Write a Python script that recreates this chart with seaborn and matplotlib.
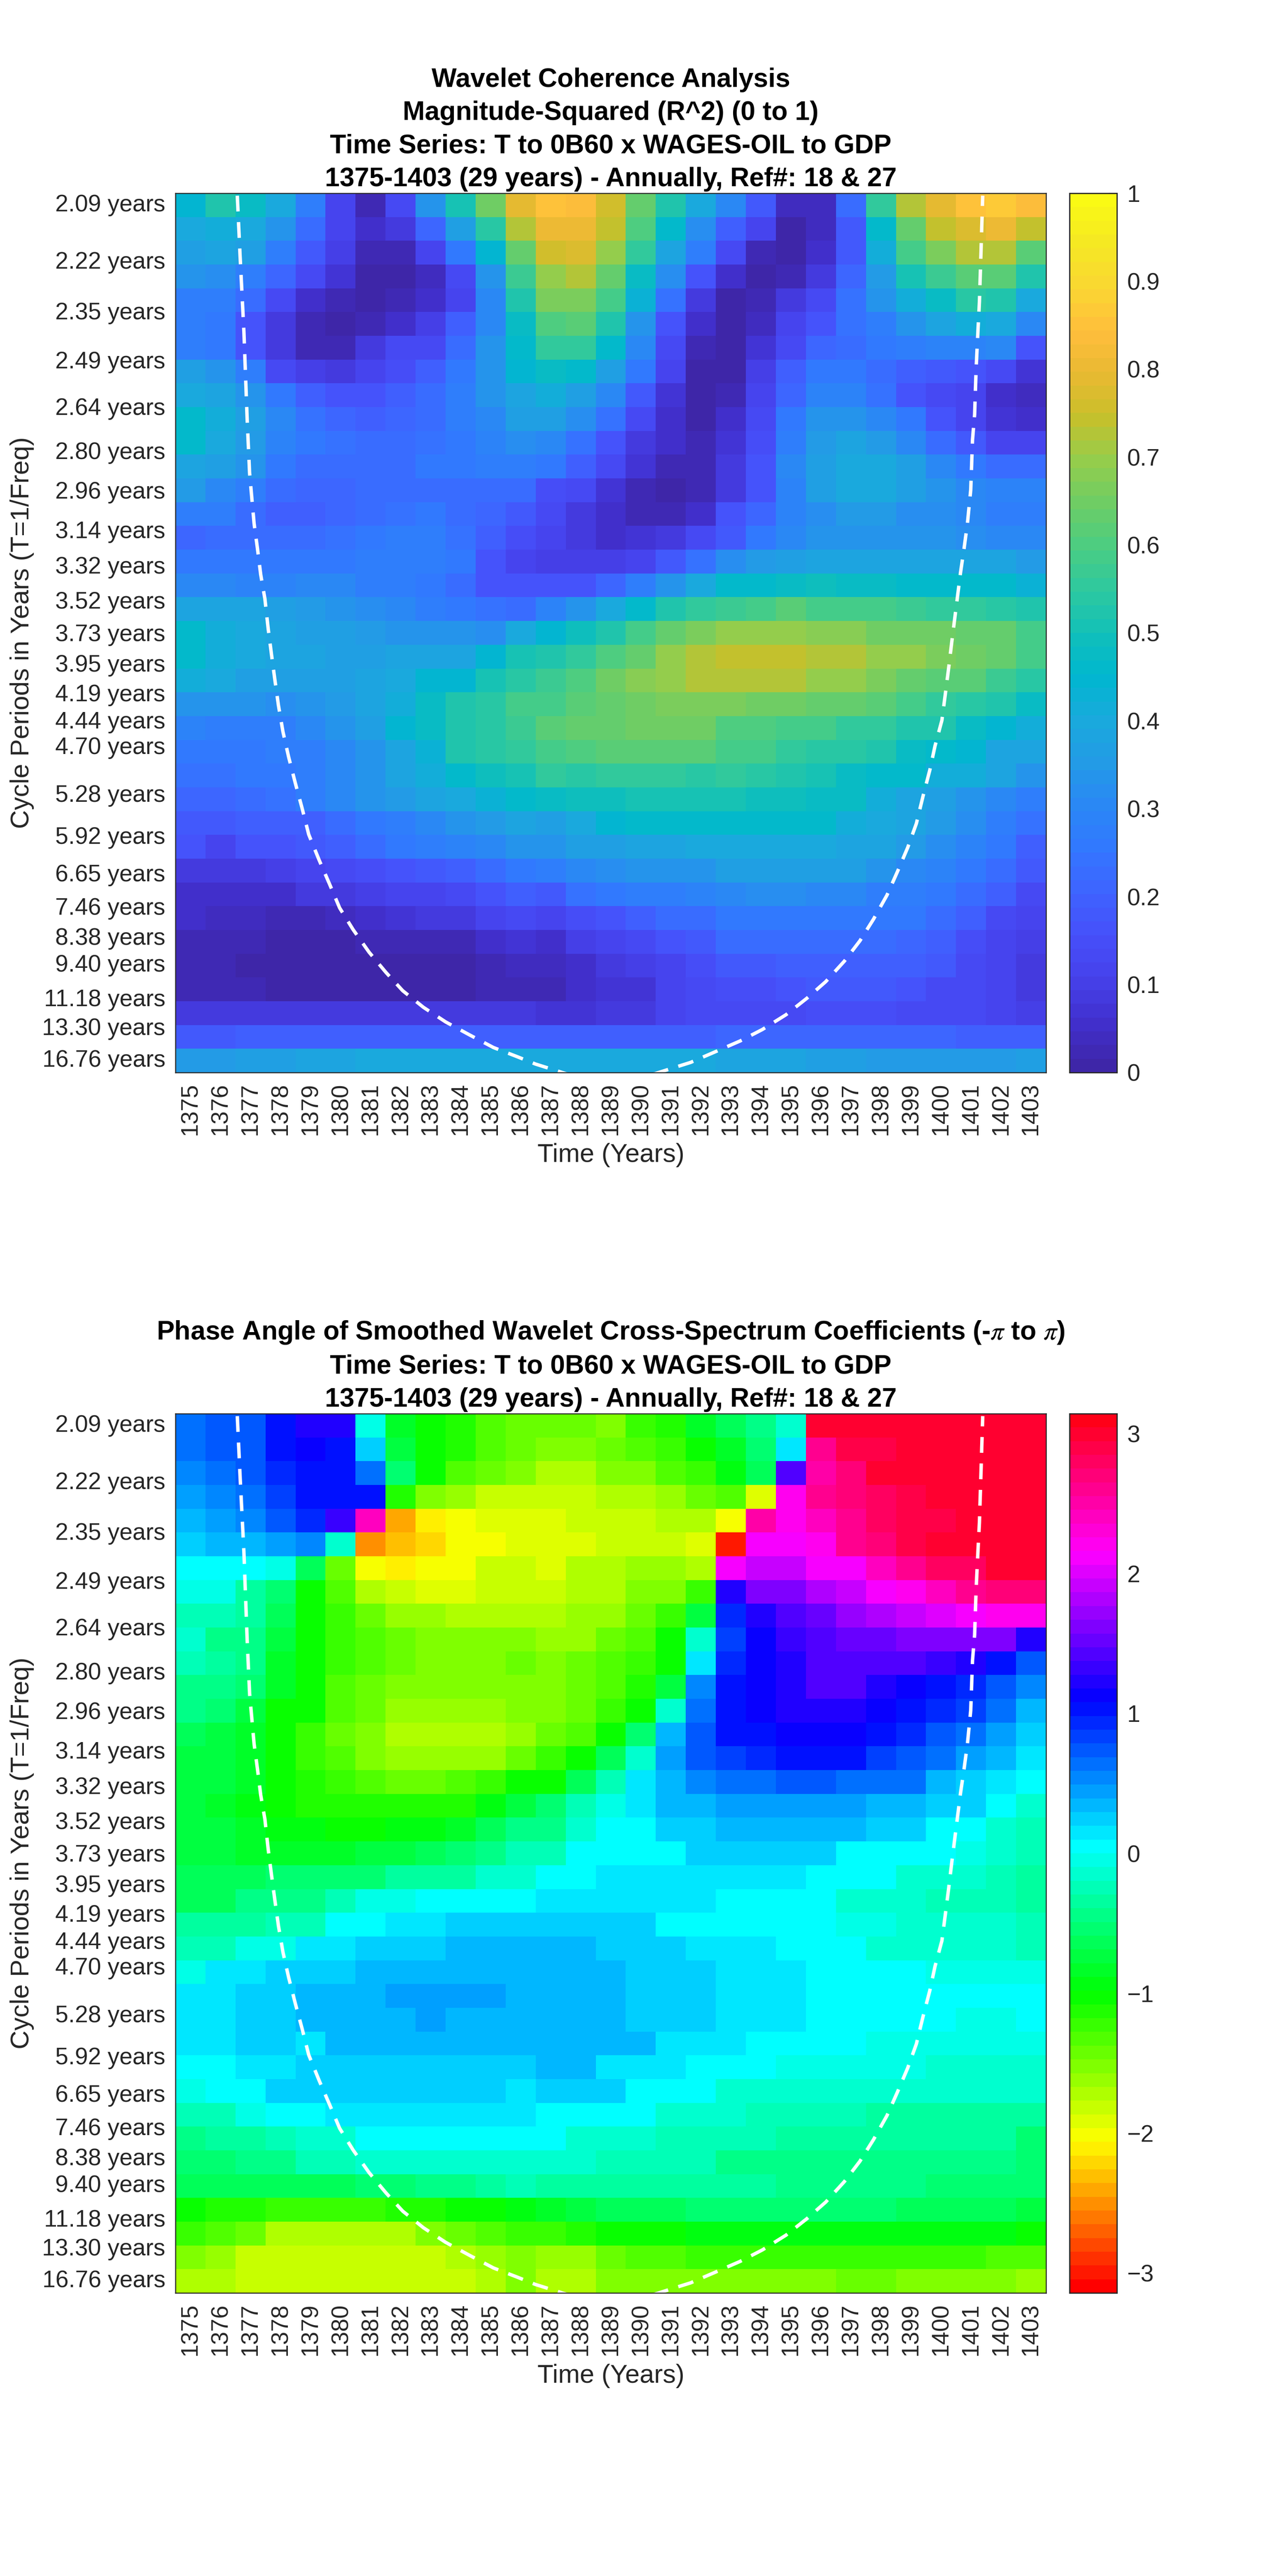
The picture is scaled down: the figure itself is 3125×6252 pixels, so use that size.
import numpy as np
import pandas as pd
import seaborn as sns
import matplotlib
matplotlib.use("Agg")
import matplotlib.pyplot as plt

years = list(range(1375, 1404))

periods = [2.09, 2.22, 2.35, 2.49, 2.64, 2.80, 2.96, 3.14, 3.32, 3.52, 3.73, 3.95, 4.19, 4.44, 4.70,
           4.98, 5.28, 5.59, 5.92, 6.27, 6.65, 7.04, 7.46, 7.90, 8.38, 8.88, 9.40, 9.96, 10.55, 11.18,
           11.85, 12.55, 13.30, 14.09, 14.93, 15.81, 16.76]
hidden_periods = [4.98, 5.59, 6.27, 7.04, 7.90, 8.88, 9.96, 10.55, 11.85, 12.55, 14.09, 14.93, 15.81]

# magnitude squared coherence, one row per cycle period
coherence = [
    [.45,.52,.47,.40,.28,.11,.03,.14,.33,.51,.65,.79,.85,.83,.75,.63,.52,.40,.30,.18,.04,.04,.23,.55,.72,.79,.85,.86,.83],
    [.40,.42,.40,.33,.22,.11,.05,.08,.21,.36,.54,.73,.81,.81,.74,.60,.46,.32,.19,.11,.01,.04,.18,.46,.63,.74,.78,.80,.74],
    [.37,.38,.37,.28,.18,.10,.03,.03,.12,.25,.44,.64,.76,.77,.69,.55,.38,.27,.13,.03,.01,.05,.18,.41,.58,.67,.72,.72,.62],
    [.33,.32,.28,.21,.13,.07,.01,.01,.04,.13,.33,.57,.70,.72,.63,.48,.32,.16,.05,.00,.02,.09,.21,.35,.51,.57,.61,.61,.53],
    [.28,.28,.22,.13,.06,.03,.01,.02,.05,.12,.30,.53,.66,.67,.58,.43,.24,.09,.00,.02,.08,.13,.24,.33,.41,.47,.54,.52,.40],
    [.28,.25,.17,.09,.02,.01,.03,.05,.10,.19,.30,.47,.60,.61,.53,.33,.17,.05,.00,.04,.12,.16,.24,.28,.33,.38,.41,.40,.30],
    [.28,.26,.17,.09,.03,.03,.09,.13,.14,.22,.33,.46,.56,.56,.46,.30,.13,.03,.00,.07,.14,.21,.23,.25,.28,.29,.29,.31,.16],
    [.36,.34,.27,.14,.10,.09,.12,.15,.19,.26,.33,.44,.47,.46,.36,.25,.11,.00,.00,.10,.19,.25,.25,.22,.20,.18,.17,.13,.07],
    [.40,.38,.33,.26,.20,.17,.17,.20,.23,.27,.34,.38,.41,.37,.31,.18,.07,.00,.03,.11,.21,.29,.29,.24,.17,.14,.12,.06,.04],
    [.46,.42,.37,.30,.24,.21,.20,.21,.23,.27,.31,.36,.36,.32,.24,.14,.06,.00,.06,.13,.25,.33,.33,.31,.25,.17,.12,.07,.05],
    [.46,.40,.35,.29,.25,.24,.23,.23,.24,.26,.29,.32,.30,.24,.17,.09,.05,.02,.07,.15,.27,.35,.39,.35,.31,.23,.18,.12,.11],
    [.39,.37,.33,.26,.23,.23,.23,.23,.25,.26,.28,.28,.25,.19,.13,.07,.03,.03,.08,.16,.30,.37,.40,.40,.36,.30,.26,.23,.23],
    [.35,.30,.27,.22,.21,.21,.22,.22,.23,.23,.23,.22,.15,.13,.07,.03,.01,.03,.09,.17,.29,.36,.40,.40,.37,.33,.31,.29,.29],
    [.28,.27,.23,.20,.20,.21,.23,.24,.25,.23,.21,.18,.13,.09,.06,.02,.03,.06,.16,.21,.29,.32,.35,.35,.32,.32,.30,.28,.28],
    [.21,.22,.22,.22,.23,.24,.26,.27,.27,.24,.20,.15,.11,.08,.05,.07,.09,.13,.18,.26,.31,.33,.33,.33,.33,.33,.32,.31,.31],
    [.25,.25,.25,.25,.25,.26,.27,.27,.27,.26,.16,.11,.10,.10,.10,.12,.18,.24,.32,.35,.37,.38,.38,.38,.39,.39,.39,.39,.35],
    [.31,.30,.29,.29,.30,.30,.28,.27,.26,.23,.16,.16,.16,.17,.21,.27,.33,.40,.46,.46,.47,.49,.48,.47,.46,.46,.46,.46,.43],
    [.39,.39,.38,.36,.35,.34,.32,.30,.28,.26,.24,.22,.29,.33,.40,.46,.52,.56,.57,.59,.61,.59,.59,.59,.57,.56,.55,.54,.52],
    [.46,.42,.40,.39,.37,.36,.35,.34,.33,.33,.32,.40,.45,.49,.53,.58,.63,.67,.70,.70,.70,.68,.68,.65,.65,.65,.63,.63,.58],
    [.46,.42,.40,.39,.38,.37,.37,.38,.38,.38,.45,.50,.53,.56,.60,.64,.70,.72,.74,.74,.74,.72,.72,.70,.70,.66,.65,.63,.59],
    [.41,.40,.37,.37,.37,.37,.38,.40,.45,.45,.50,.54,.57,.60,.65,.68,.70,.72,.72,.72,.72,.69,.69,.67,.64,.62,.61,.57,.54],
    [.34,.33,.33,.32,.33,.35,.39,.42,.47,.52,.54,.58,.58,.62,.64,.65,.66,.67,.67,.65,.65,.63,.63,.61,.59,.56,.54,.52,.48],
    [.29,.28,.28,.28,.30,.33,.37,.45,.47,.52,.54,.57,.61,.63,.63,.65,.65,.65,.60,.60,.58,.58,.56,.55,.52,.52,.48,.45,.41],
    [.26,.26,.26,.28,.28,.31,.34,.39,.43,.52,.54,.56,.58,.60,.61,.61,.61,.61,.58,.58,.56,.54,.54,.52,.47,.46,.45,.39,.38],
    [.24,.24,.25,.26,.28,.31,.34,.38,.42,.46,.49,.51,.55,.54,.55,.55,.55,.54,.55,.54,.52,.51,.48,.46,.46,.42,.41,.38,.34],
    [.21,.21,.22,.24,.27,.30,.33,.35,.38,.40,.43,.46,.47,.49,.49,.51,.51,.51,.51,.49,.49,.47,.47,.41,.39,.37,.34,.31,.27],
    [.18,.18,.19,.20,.20,.23,.25,.27,.30,.33,.35,.38,.36,.40,.45,.46,.46,.46,.46,.46,.46,.46,.41,.40,.38,.35,.32,.28,.24],
    [.16,.12,.16,.17,.18,.20,.22,.25,.27,.29,.31,.33,.33,.36,.37,.38,.39,.40,.40,.40,.40,.40,.39,.38,.35,.32,.29,.25,.20],
    [.09,.08,.08,.10,.11,.13,.15,.16,.18,.20,.22,.26,.27,.30,.32,.33,.34,.34,.37,.37,.37,.36,.36,.33,.31,.29,.26,.22,.18],
    [.06,.05,.05,.05,.08,.09,.10,.11,.12,.14,.16,.19,.18,.24,.25,.27,.28,.29,.31,.32,.32,.31,.30,.28,.27,.26,.22,.19,.14],
    [.05,.04,.04,.02,.02,.04,.05,.07,.08,.09,.11,.13,.11,.15,.17,.19,.22,.23,.26,.26,.26,.26,.26,.26,.25,.23,.19,.13,.11],
    [.03,.02,.02,.01,.01,.01,.02,.03,.03,.03,.05,.07,.06,.10,.12,.14,.17,.18,.23,.23,.23,.22,.22,.22,.21,.19,.15,.12,.10],
    [.03,.02,.01,.01,.01,.01,.01,.01,.01,.01,.02,.04,.04,.05,.09,.10,.11,.15,.18,.18,.20,.20,.20,.20,.19,.18,.14,.12,.09],
    [.03,.02,.02,.01,.01,.01,.01,.01,.01,.01,.02,.02,.02,.05,.07,.07,.12,.13,.15,.15,.16,.18,.18,.18,.17,.14,.13,.11,.09],
    [.08,.08,.08,.08,.08,.08,.08,.08,.08,.08,.08,.08,.07,.07,.08,.09,.12,.13,.14,.14,.14,.15,.15,.15,.14,.13,.13,.12,.10],
    [.18,.18,.19,.19,.19,.20,.20,.20,.20,.20,.20,.20,.20,.20,.20,.20,.20,.20,.21,.21,.21,.21,.21,.21,.21,.21,.20,.20,.20],
    [.35,.35,.36,.37,.38,.39,.40,.40,.40,.40,.40,.40,.40,.40,.40,.40,.40,.40,.39,.39,.38,.37,.36,.35,.35,.35,.35,.35,.36],
]

# phase angle in radians, same layout
phase = [
    [.64,.72,.78,1.0,1.2,1.2,-.06,-.84,-1.05,-1.13,-1.33,-1.42,-1.46,-1.46,-1.48,-1.25,-1.09,-.84,-.6,-.43,-.14,3.02,3.02,3.02,3.02,3.02,3.02,3.02,3.02],
    [.64,.70,.75,1.0,1.1,1.0,.22,-.72,-1.05,-1.09,-1.33,-1.40,-1.56,-1.56,-1.42,-1.33,-1.24,-1.0,-.8,-.51,.1,2.65,2.9,2.9,3.02,3.02,3.02,3.02,3.02],
    [.55,.65,.72,.9,1.0,1.0,.64,-.51,-1.05,-1.29,-1.40,-1.52,-1.67,-1.67,-1.54,-1.54,-1.33,-1.24,-.97,-.6,1.46,2.52,2.73,2.95,2.95,3.02,3.02,3.02,3.02],
    [.42,.55,.62,.85,1.03,1.05,1.05,-1.13,-1.54,-1.65,-1.79,-1.80,-1.83,-1.83,-1.71,-1.71,-1.58,-1.42,-1.33,-1.96,2.23,2.56,2.68,2.81,2.9,3.02,3.02,3.02,3.02],
    [.32,.42,.55,.75,.97,1.3,2.45,-2.38,-2.09,-2.0,-1.87,-1.87,-1.93,-1.80,-1.82,-1.82,-1.67,-1.67,-1.98,2.52,2.23,2.36,2.6,2.77,2.9,2.9,3.02,3.02,3.02],
    [.21,.32,.33,.42,.55,-.18,-2.46,-2.32,-2.2,-2.0,-2.0,-1.92,-1.9,-1.92,-1.79,-1.79,-1.79,-1.9,-2.95,2.09,2.09,2.2,2.56,2.73,2.9,2.95,2.95,3.02,3.02],
    [.08,.08,0,-.05,-.64,-1.46,-1.98,-2.09,-1.98,-1.98,-1.83,-1.83,-1.87,-1.75,-1.75,-1.63,-1.63,-1.75,2.15,1.87,1.87,2.09,2.09,2.40,2.6,2.77,2.83,2.95,2.95],
    [-.03,-.03,-.35,-.55,-1.0,-1.3,-1.67,-1.83,-1.87,-1.87,-1.77,-1.77,-1.77,-1.69,-1.69,-1.56,-1.56,-1.25,1.21,1.59,1.65,1.77,1.87,2.09,2.23,2.44,2.65,2.69,2.69],
    [-.23,-.23,-.35,-.64,-1.05,-1.21,-1.38,-1.58,-1.63,-1.75,-1.67,-1.67,-1.69,-1.58,-1.58,-1.42,-1.25,-.72,.97,1.21,1.42,1.56,1.69,1.77,1.87,2.0,2.1,2.23,2.2],
    [-.18,-.4,-.45,-.75,-1.05,-1.2,-1.3,-1.38,-1.5,-1.5,-1.5,-1.5,-1.6,-1.6,-1.46,-1.33,-1.05,-.16,.86,1.17,1.36,1.38,1.48,1.48,1.58,1.58,1.58,1.58,1.2],
    [-.27,-.35,-.42,-.8,-1.05,-1.18,-1.32,-1.38,-1.5,-1.5,-1.5,-1.42,-1.56,-1.44,-1.33,-1.23,-1.05,.1,.97,1.17,1.25,1.38,1.38,1.38,1.38,1.3,1.2,1.0,.7],
    [-.42,-.45,-.55,-.85,-1.05,-1.3,-1.4,-1.5,-1.5,-1.5,-1.5,-1.5,-1.52,-1.44,-1.33,-1.15,-.74,.51,1.05,1.15,1.24,1.38,1.38,1.25,1.17,1.05,.97,.72,.51],
    [-.48,-.55,-.7,-1.0,-1.0,-1.3,-1.38,-1.65,-1.65,-1.65,-1.65,-1.55,-1.5,-1.42,-1.24,-1.05,-.18,.68,1.05,1.15,1.25,1.25,1.25,1.17,1.05,.97,.8,.64,.35],
    [-.62,-.7,-.85,-1.05,-1.25,-1.38,-1.55,-1.7,-1.7,-1.7,-1.7,-1.6,-1.44,-1.33,-1.05,-.55,.31,.72,1.0,1.05,1.15,1.15,1.15,1.05,.97,.76,.6,.43,.2],
    [-.7,-.72,-.85,-1.05,-1.2,-1.3,-1.5,-1.65,-1.65,-1.65,-1.6,-1.45,-1.25,-1.0,-.64,-.1,.41,.7,.8,.9,1.05,1.05,1.05,.88,.78,.6,.49,.33,.1],
    [-.7,-.78,-.85,-1.0,-1.1,-1.2,-1.3,-1.4,-1.4,-1.3,-1.18,-1.05,-1.05,-.64,-.27,.1,.33,.54,.6,.68,.76,.76,.68,.68,.62,.39,.29,.12,0],
    [-.75,-.8,-.9,-1.05,-1.1,-1.1,-1.15,-1.15,-1.12,-1.1,-.9,-.75,-.51,-.27,-.06,.1,.31,.37,.49,.49,.49,.49,.49,.39,.39,.27,.25,0,-.1],
    [-.76,-.76,-.88,-.95,-.95,-1.05,-1.05,-.93,-.93,-.88,-.64,-.43,-.4,-.18,0,.06,.2,.2,.33,.33,.33,.33,.33,.2,.2,.08,0,-.12,-.27],
    [-.72,-.72,-.85,-.85,-.85,-.85,-.72,-.72,-.65,-.55,-.45,-.25,-.22,0,0,.08,.08,.2,.2,.2,.2,.2,.08,.08,0,0,-.05,-.1,-.27],
    [-.6,-.6,-.6,-.55,-.55,-.5,-.5,-.35,-.35,-.35,-.1,-.1,0,0,.1,.1,.1,.12,.12,.12,.12,0,0,0,-.12,-.15,-.18,-.2,-.32],
    [-.6,-.6,-.4,-.4,-.4,-.25,-.05,-.05,0,0,0,.08,.12,.12,.12,.12,.12,.12,0,0,0,0,-.1,-.12,-.12,-.22,-.22,-.22,-.35],
    [-.3,-.3,-.3,-.22,-.22,0,0,.18,.18,.25,.25,.25,.2,.2,.2,.2,.08,.08,0,0,0,0,-.08,-.08,-.1,-.18,-.18,-.18,-.2],
    [-.25,-.25,-.02,-.02,.1,.1,.25,.25,.25,.3,.3,.3,.33,.33,.2,.2,.2,.1,.1,.1,0,0,0,-.1,-.1,-.14,-.14,-.14,-.2],
    [-.01,.17,.17,.2,.2,.2,.3,.3,.3,.33,.33,.33,.36,.36,.36,.2,.2,.2,.12,.12,.12,0,0,0,0,-.06,-.06,-.06,-.06],
    [.12,.12,.22,.22,.32,.32,.32,.45,.45,.45,.45,.38,.36,.36,.36,.2,.2,.2,.12,.12,.12,0,0,0,0,0,0,0,0],
    [.12,.12,.22,.22,.32,.32,.32,.32,.48,.38,.38,.38,.36,.36,.36,.2,.2,.2,.12,.12,.12,0,0,0,0,0,-.04,-.04,0],
    [.12,.12,.22,.22,.17,.37,.37,.37,.37,.37,.37,.37,.3,.3,.3,.3,.15,.15,.15,0,0,0,0,-.05,-.05,-.05,-.05,-.05,-.05],
    [0,0,.17,.17,.25,.25,.25,.25,.25,.25,.25,.25,.3,.3,.12,.12,.12,0,0,0,-.05,-.05,-.05,-.05,-.05,-.1,-.1,-.1,-.1],
    [-.08,0,0,.2,.2,.22,.22,.22,.22,.22,.22,.1,.2,.2,.2,0,0,0,-.1,-.1,-.1,-.1,-.15,-.15,-.15,-.15,-.15,-.15,-.15],
    [-.2,-.2,-.08,0,0,.1,.1,.1,.1,.1,.1,.1,.05,.05,.05,.05,-.1,-.1,-.1,-.22,-.22,-.22,-.22,-.3,-.3,-.3,-.3,-.3,-.3],
    [-.4,-.3,-.3,-.25,-.12,-.12,0,0,0,0,0,0,0,-.12,-.12,-.12,-.25,-.25,-.25,-.25,-.35,-.35,-.35,-.38,-.38,-.38,-.38,-.38,-.5],
    [-.55,-.55,-.42,-.4,-.2,-.2,-.1,-.1,-.1,-.1,-.1,-.1,-.12,-.12,-.25,-.25,-.25,-.25,-.4,-.4,-.4,-.4,-.45,-.45,-.45,-.45,-.45,-.45,-.55],
    [-.65,-.65,-.65,-.65,-.65,-.6,-.5,-.5,-.45,-.4,-.3,-.28,-.39,-.39,-.39,-.39,-.39,-.39,-.39,-.39,-.43,-.43,-.43,-.43,-.43,-.5,-.5,-.5,-.5],
    [-1.05,-1.08,-1.12,-1.18,-1.22,-1.22,-1.22,-1.15,-1.1,-1.05,-1.0,-.95,-.8,-.72,-.64,-.64,-.64,-.51,-.51,-.51,-.51,-.51,-.51,-.51,-.64,-.64,-.64,-.64,-.76],
    [-1.25,-1.3,-1.38,-1.7,-1.7,-1.7,-1.7,-1.7,-1.55,-1.42,-1.3,-1.2,-1.25,-1.17,-1.05,-1.05,-1.05,-.93,-.93,-.93,-.93,-.93,-.93,-.93,-.93,-.93,-.93,-.93,-1.05],
    [-1.55,-1.65,-1.77,-1.77,-1.77,-1.77,-1.77,-1.77,-1.77,-1.72,-1.6,-1.5,-1.62,-1.62,-1.46,-1.36,-1.36,-1.2,-1.2,-1.2,-1.2,-1.2,-1.2,-1.2,-1.2,-1.2,-1.2,-1.28,-1.33],
    [-1.67,-1.75,-1.77,-1.77,-1.77,-1.77,-1.77,-1.77,-1.77,-1.77,-1.72,-1.5,-1.7,-1.7,-1.5,-1.5,-1.5,-1.5,-1.5,-1.5,-1.5,-1.5,-1.38,-1.38,-1.5,-1.5,-1.5,-1.5,-1.62],
]

# cone of influence, left and right branch
coi_left_year = [1376.56,1376.65,1376.78,1376.89,1376.97,1377.12,1377.23,1377.34,1377.48,1377.59,1377.70,1377.81,
                 1377.93,1378.08,1378.27,1378.49,1378.72,1378.94,1379.29,1379.63,1379.97,1380.42,1380.95,1381.51,
                 1382.07,1382.76,1383.50,1384.29,1385.09,1385.88,1386.49,1387.57]
coi_left_period = [2.07,2.20,2.40,2.68,2.88,3.10,3.22,3.36,3.50,3.69,3.87,4.06,
                   4.28,4.53,4.80,5.11,5.46,5.87,6.34,6.84,7.44,8.08,8.87,9.72,
                   10.65,11.66,12.72,13.83,15.13,16.23,17.24,18.87]
coi_right_year = [1390.41,1391.66,1392.51,1393.31,1394.05,1394.84,1395.53,1396.16,1396.78,1397.30,1397.75,1398.20,
                  1398.55,1398.89,1399.18,1399.40,1399.63,1399.80,1400.03,1400.14,1400.25,1400.37,1400.54,1400.65,
                  1400.77,1400.88,1400.99,1401.05,1401.12,1401.17,1401.23,1401.28,1401.33,1401.39]
coi_right_period = [18.87,17.01,15.58,14.43,13.35,12.17,11.09,10.17,9.23,8.45,7.76,7.11,
                    6.57,6.10,5.69,5.29,4.95,4.68,4.42,4.19,3.98,3.76,3.50,3.35,
                    3.22,3.10,2.95,2.75,2.66,2.51,2.40,2.32,2.20,2.07]

coherence_ticks = [0, .1, .2, .3, .4, .5, .6, .7, .8, .9, 1]
coherence_ticklabels = ["0", "0.1", "0.2", "0.3", "0.4", "0.5", "0.6", "0.7", "0.8", "0.9", "1"]
phase_ticks = [-3, -2, -1, 0, 1, 2, 3]

parula_like = [(62,38,168),(65,48,205),(70,65,235),(70,80,250),(62,100,255),(50,120,255),(42,135,245),
               (35,155,230),(25,170,220),(0,183,207),(18,192,185),(45,200,160),(75,205,130),(110,205,100),
               (150,205,75),(200,192,42),(232,185,50),(255,190,60),(250,215,50),(245,232,35),(250,250,20)]

title_top = "Wavelet Coherence Analysis\nMagnitude-Squared (R^2) (0 to 1)\nTime Series: T to 0B60 x WAGES-OIL to GDP\n1375-1403 (29 years) - Annually, Ref#: 18 & 27"
title_bottom = "Phase Angle of Smoothed Wavelet Cross-Spectrum Coefficients (-$\\pi$ to $\\pi$)\nTime Series: T to 0B60 x WAGES-OIL to GDP\n1375-1403 (29 years) - Annually, Ref#: 18 & 27"

W, H = 3125, 6252
DPI = 400
DARK = "#262626"

sns.set_style("white")
plt.rcParams["font.family"] = ["Liberation Sans", "DejaVu Sans"]
plt.rcParams["mathtext.fontset"] = "stix"
plt.rcParams["axes.linewidth"] = 0.45


def px_axes(fig, left, top, right, bottom):
    return fig.add_axes([left / W, 1 - bottom / H, (right - left) / W, (bottom - top) / H])


def period_to_row(p):
    # rows are evenly spaced in frequency
    f0, f1 = 1 / periods[0], 1 / periods[-1]
    return 0.5 + (len(periods) - 1) * (f0 - 1 / np.asarray(p)) / (f0 - f1)


def panel(fig, top, bottom, values, cmap, vmin, vmax, title, cticks, clabels=None):
    ax = px_axes(fig, 426, top, 2540, bottom)
    cax = px_axes(fig, 2597, top, 2712, bottom)
    df = pd.DataFrame(values, index=periods, columns=years)
    sns.heatmap(df, ax=ax, cbar_ax=cax, cmap=cmap, vmin=vmin, vmax=vmax, linewidths=0, rasterized=True)

    ax.set_xticks(np.arange(len(years)) + 0.5)
    ax.set_xticklabels(years, rotation=90, fontsize=10.3, color=DARK)
    ax.set_yticks(period_to_row(periods))
    ax.set_yticklabels(["" if p in hidden_periods else f"{p:.2f} years" for p in periods],
                       rotation=0, fontsize=10.3, color=DARK)
    ax.tick_params(axis="both", direction="in", length=4.5, width=0.4, color=DARK,
                   top=True, bottom=True, left=True, right=True, pad=4.4)

    for spine in ax.spines.values():
        spine.set_visible(True)
        spine.set_color(DARK)
        spine.set_linewidth(0.45)

    ax.plot(np.array(coi_left_year) - 1375 + 0.5, period_to_row(coi_left_period),
            color="white", lw=1.5, dashes=(4.6, 3.1))
    ax.plot(np.array(coi_right_year) - 1375 + 0.5, period_to_row(coi_right_period),
            color="white", lw=1.5, dashes=(4.6, 3.1))

    ax.set_xlabel("Time (Years)", fontsize=11.4, color=DARK)
    ax.set_ylabel("Cycle Periods in Years (T=1/Freq)", fontsize=11.4, color=DARK, va="center")
    ax.xaxis.set_label_coords(0.5, -201 / (bottom - top))
    ax.xaxis.label.set_va("center")
    ax.yaxis.set_label_coords(-372 / 2114, 0.5)
    ax.set_title(title, fontsize=11.6, fontweight="bold", color="black", pad=3, linespacing=1.435)

    cax.set_yticks(cticks)
    if clabels:
        cax.set_yticklabels(clabels)
    cax.tick_params(axis="y", direction="in", length=3.6, width=0.3, color=DARK, right=True, left=False,
                    labelsize=10.3, labelcolor=DARK, pad=4.4)
    for spine in cax.spines.values():
        spine.set_visible(True)
        spine.set_color(DARK)
        spine.set_linewidth(0.45)
    return ax


fig = plt.figure(figsize=(W / DPI, H / DPI), dpi=DPI, facecolor="white")

top_colors = sns.blend_palette([tuple(c / 255 for c in rgb) for rgb in parula_like], n_colors=64)
bottom_colors = sns.hls_palette(64, h=0, l=0.5, s=1)

panel(fig, 469, 2603, coherence, top_colors, 0, 1, title_top, coherence_ticks, coherence_ticklabels)
panel(fig, 3431, 5565, phase, bottom_colors, -np.pi, np.pi, title_bottom, phase_ticks)

fig.savefig("out.png", dpi=DPI)
